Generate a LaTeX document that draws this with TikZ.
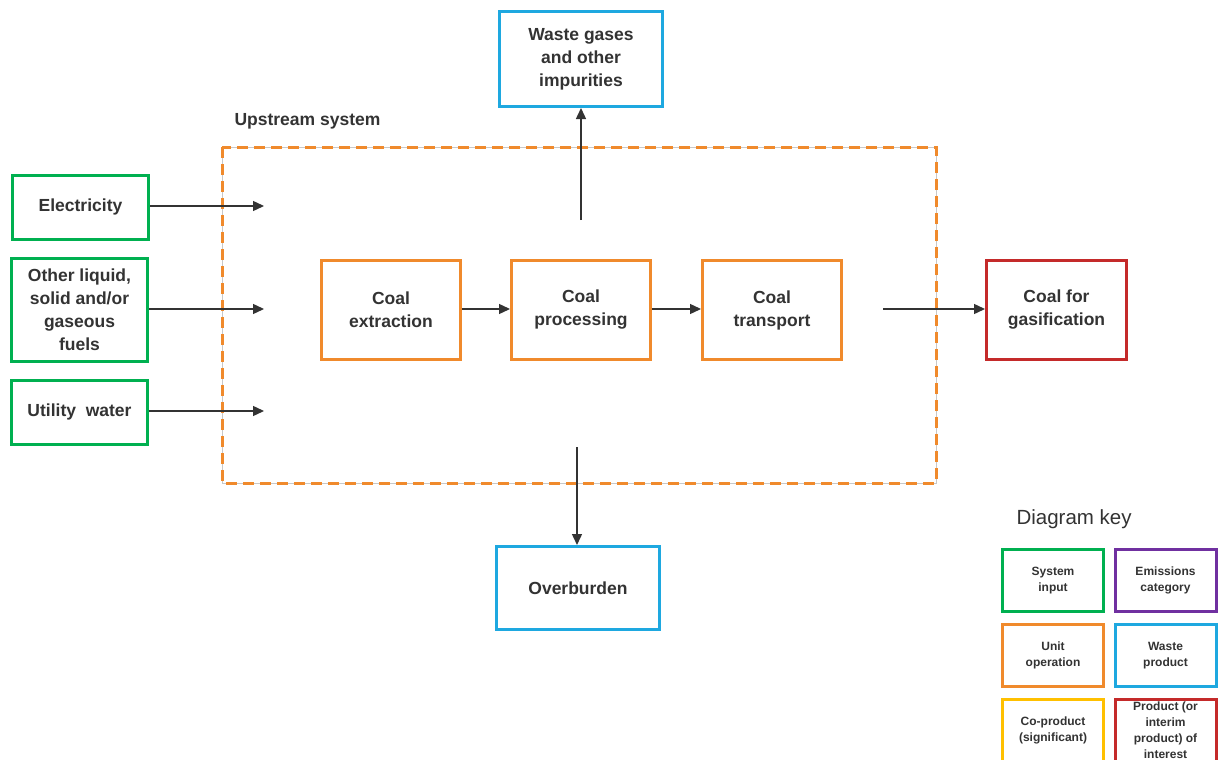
\documentclass[tikz,border=0pt]{standalone}
\usepackage{fontspec}
\setmainfont{Liberation Sans}
\usetikzlibrary{arrows.meta}
\definecolor{cgreen}{HTML}{00B050}
\definecolor{corange}{HTML}{F08A2C}
\definecolor{cblue}{HTML}{1EA8E0}
\definecolor{cred}{HTML}{C42A2A}
\definecolor{cpurple}{HTML}{7030A0}
\definecolor{cyellow}{HTML}{FFC000}
\definecolor{ctext}{HTML}{333333}
\definecolor{cgrayline}{HTML}{C8C8C8}
\tikzset{
  box/.style={draw, line width=3pt, fill=white, align=center, text=ctext,
    font=\bfseries\fontsize{17.5}{23}\selectfont, inner sep=0pt},
  keybox/.style={draw, line width=3pt, fill=white, align=center, text=ctext,
    font=\bfseries\fontsize{12}{16}\selectfont, inner sep=0pt,
    minimum width=101pt, minimum height=62pt},
  conn/.style={draw=ctext, line width=1.4pt, -{Triangle[length=11pt,width=10pt]}},
}
\begin{document}
\begin{tikzpicture}[x=1pt,y=-1pt]
\useasboundingbox (0,0) rectangle (1219,760);
% upstream system boundary
\draw[cgrayline, line width=0.8pt] (222,147) rectangle (936,483);
\draw[corange, line width=3pt, dash pattern=on 11pt off 6pt] (222,147) rectangle (936,483);
\node[anchor=west, text=ctext, font=\bfseries\fontsize{17.5}{21}\selectfont] (uplabel) at (231,121) {Upstream system};

% inputs
\node[box, draw=cgreen, minimum width=136pt, minimum height=64pt] (elec) at (80.5,207) {Electricity};
\node[box, draw=cgreen, minimum width=136pt, minimum height=103pt] (fuels) at (79.5,309.5) {Other liquid,\\solid and/or\\gaseous\\fuels};
\node[box, draw=cgreen, minimum width=136pt, minimum height=64pt] (water) at (79.5,412) {Utility\ \ water};

\coordinate (e1) at (264,206);
\coordinate (f1) at (264,309);
\coordinate (w1) at (264,411);
\draw[conn] (elec.east |- e1) -- (e1);
\draw[conn] (fuels.east |- f1) -- (f1);
\draw[conn] (water.east |- w1) -- (w1);

% unit operations
\node[box, draw=corange, minimum width=139pt, minimum height=99pt] (extr) at (391,310) {Coal\\extraction};
\node[box, draw=corange, minimum width=139pt, minimum height=99pt] (proc) at (581,310) {Coal\\processing};
\node[box, draw=corange, minimum width=139pt, minimum height=99pt] (trans) at (772,310) {Coal\\transport};
\draw[conn] (extr.east |- 0,309) -- (proc.west |- 0,309);
\draw[conn] (proc.east |- 0,309) -- (trans.west |- 0,309);

% product
\node[box, draw=cred, minimum width=140pt, minimum height=99pt] (prod) at (1056.5,310) {Coal for\\gasification};
\coordinate (p0) at (883,309);
\draw[conn] (p0) -- (prod.west |- p0);

% wastes
\node[box, draw=cblue, minimum width=163pt, minimum height=95pt] (wgas) at (581,59) {Waste gases\\and other\\impurities};
\coordinate (g0) at (581,220);
\draw[conn] (g0) -- (wgas.south);

\node[box, draw=cblue, minimum width=163pt, minimum height=83pt] (over) at (578,588) {Overburden};
\coordinate (o0) at (577,447);
\draw[conn] (o0) -- (o0 |- over.north);

% key
\node[anchor=west, text=ctext, font=\fontsize{20.5}{24}\selectfont] (keytitle) at (1013,519) {Diagram key};
\node[keybox, draw=cgreen] (k1) at (1053,580.5) {\raisebox{-2pt}{\parbox{90pt}{\centering System\\input}}};
\node[keybox, draw=cpurple] (k2) at (1165.5,580.5) {\raisebox{-2pt}{\parbox{100pt}{\centering Emissions\\category}}};
\node[keybox, draw=corange] (k3) at (1053,655.5) {\raisebox{-2pt}{\parbox{90pt}{\centering Unit\\operation}}};
\node[keybox, draw=cblue] (k4) at (1165.5,655.5) {\raisebox{-2pt}{\parbox{90pt}{\centering Waste\\product}}};
\node[keybox, draw=cyellow] (k5) at (1053,730) {Co-product\\(significant)};
\node[keybox, draw=cred] (k6) at (1165.5,730) {Product (or\\interim\\product) of\\interest};
\end{tikzpicture}
\end{document}
